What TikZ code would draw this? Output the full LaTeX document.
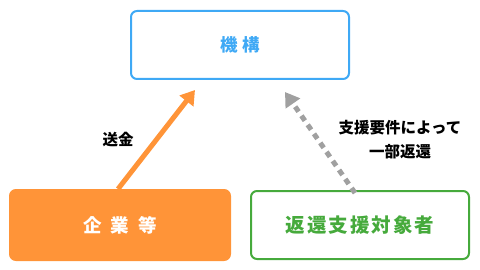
\documentclass[tikz,border=0pt]{standalone}
\usepackage{fontspec}
\newfontfamily\cjk{Noto Sans CJK JP}
\usetikzlibrary{arrows.meta,positioning}
\definecolor{kikoublue}{RGB}{63,169,245}
\definecolor{kigyouorange}{RGB}{255,148,56}
\definecolor{taishougreen}{RGB}{70,170,60}
\definecolor{henkangray}{RGB}{160,160,160}

\begin{document}
\begin{tikzpicture}[x=1pt,y=-1pt,
    box/.style={rounded corners=6pt,minimum width=218pt,minimum height=68pt,line width=2pt,font=\cjk\bfseries},
    label/.style={font=\cjk\bfseries\fontsize{15.5}{24}\selectfont,align=center,text=black}]
  \useasboundingbox (0,0) rectangle (480,270);
  \node[box,draw=kikoublue,text=kikoublue] (kikou) at (240,45) {\fontsize{17.5}{20}\selectfont 機\hspace{5pt}構};
  \node[box,draw=kigyouorange,fill=kigyouorange,text=white,minimum width=220pt,minimum height=70pt] (kigyou) at (120,225) {\fontsize{18.5}{20}\selectfont 企\hspace{9pt}業\hspace{9pt}等};
  \node[box,draw=taishougreen,text=taishougreen] (taishou) at (360,225) {\fontsize{19.5}{20}\selectfont 返\hspace{2pt}還\hspace{2pt}支\hspace{2pt}援\hspace{2pt}対\hspace{2pt}象\hspace{2pt}者};
  \coordinate (sendtip) at (195,90);
  \coordinate (returntip) at (285,92);
  % arrows
  \draw[kigyouorange,line width=5pt,-{Triangle[length=14pt,width=17pt]}] ([xshift=-2pt]kigyou.north) -- (sendtip);
  \draw[henkangray,line width=5pt,dash pattern=on 6pt off 5pt,-{Triangle[length=14pt,width=17pt]}] ([xshift=-5pt,yshift=-3pt]taishou.north) -- (returntip);
  \node[label] (soukin) at (118,140) {送金};
  \node[label] (henkan) at (400,140) {支援要件によって\\一部返還};
\end{tikzpicture}
\end{document}
